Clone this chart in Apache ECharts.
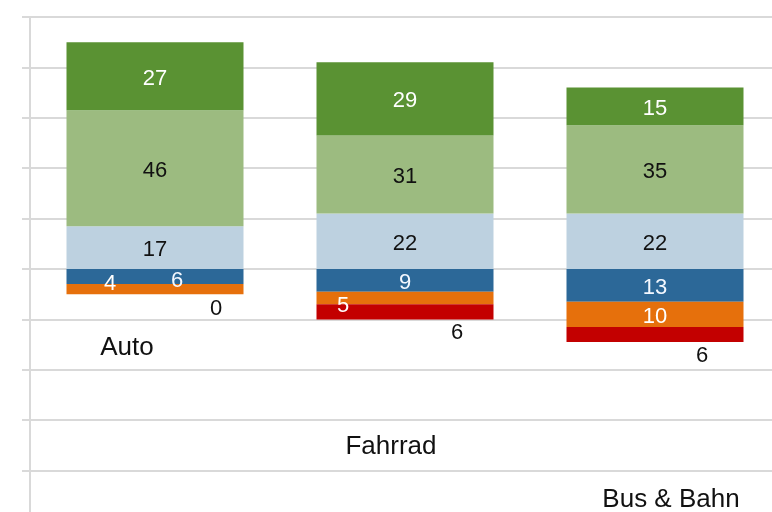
<!DOCTYPE html>
<html>
<head>
<meta charset="utf-8">
<script src="https://cdn.jsdelivr.net/npm/echarts@6/dist/echarts.min.js"></script>
<style>
  html, body { margin: 0; padding: 0; background: #fff; }
  #main { width: 772px; height: 512px; }
</style>
</head>
<body>
<div id="main"></div>
<script>
// categories
var categories = ['Auto', 'Fahrrad', 'Bus & Bahn'];

// positive part of the diverging stack (from zero upwards)
var hellblau = [17, 22, 22];
var hellgruen = [46, 31, 35];
var dunkelgruen = [27, 29, 15];

// negative part (from zero downwards)
var dunkelblau = [-6, -9, -13];
var orange = [-4, -5, -10];
var rot = [0, -6, -6];

// value axis
var yMin = -100, yMax = 100, yStep = 20;

// hand-placed labels, as in the original (offset from default spot)
var blauOffsets = [[22, 4], null, null];
var orangeOffsets = [[-45, -5], [-62, 8], null];
var rotOffsets = [[61, 15], [52, 21], [47, 21]];
// category names sit staggered below the bars (offset from band centre / zero line)
var catOffsets = [[-28, 79], [-14, 178], [16, 231]];

var FONT = '"Liberation Sans", Arial, sans-serif';
var grey = '#d9d9d9';

function withOffsets(values, offsets) {
  return values.map(function (v, i) {
    if (!offsets[i]) return v;
    return { value: v, label: { offset: offsets[i] } };
  });
}

function seg(name, color, data, textColor) {
  return {
    name: name,
    type: 'bar',
    stack: 'total',
    barWidth: 177,
    itemStyle: { color: color },
    label: {
      show: true,
      position: 'inside',
      offset: [0, 2.5],
      color: textColor,
      fontSize: 22,
      fontFamily: FONT,
      formatter: function (p) { return Math.abs(p.value); }
    },
    emphasis: { disabled: true },
    data: data
  };
}

var option = {
  animation: false,
  backgroundColor: '#fff',
  grid: { left: 30, right: -8, top: 17, bottom: -9, containLabel: false, outerBoundsMode: 'none' },
  xAxis: {
    type: 'category',
    data: categories,
    axisLine: { show: false },
    axisTick: { show: false },
    axisLabel: { show: false }
  },
  yAxis: {
    type: 'value',
    min: yMin,
    max: yMax,
    interval: yStep,
    axisLabel: { show: false },
    axisLine: { show: true, lineStyle: { color: grey, width: 2 } },
    axisTick: { show: true, length: 8, lineStyle: { color: grey, width: 2 } },
    splitLine: { show: true, lineStyle: { color: grey, width: 2 } }
  },
  series: [
    seg('Hellblau', '#bdd1e0', hellblau, '#111'),
    seg('Hellgrün', '#9cbb80', hellgruen, '#111'),
    seg('Dunkelgrün', '#5a9233', dunkelgruen, '#fff'),
    seg('Dunkelblau', '#2c6898', withOffsets(dunkelblau, blauOffsets), '#f4f8ff'),
    seg('Orange', '#e6700c', withOffsets(orange, orangeOffsets), '#fff'),
    seg('Rot', '#c30000', withOffsets(rot, rotOffsets), '#111')
  ]
};

var chart = echarts.init(document.getElementById('main'), null, { renderer: 'canvas' });
chart.setOption(option);

// category names, placed from the axis scale
var zeroY = chart.convertToPixel({ yAxisIndex: 0 }, 0);
chart.setOption({
  graphic: categories.map(function (c, i) {
    var x = chart.convertToPixel({ xAxisIndex: 0 }, c);
    return {
      type: 'text',
      x: x + catOffsets[i][0],
      y: zeroY + catOffsets[i][1],
      style: {
        text: c,
        fontSize: 26,
        fontFamily: FONT,
        fill: '#111',
        align: 'center',
        verticalAlign: 'middle'
      }
    };
  })
});
</script>
</body>
</html>
